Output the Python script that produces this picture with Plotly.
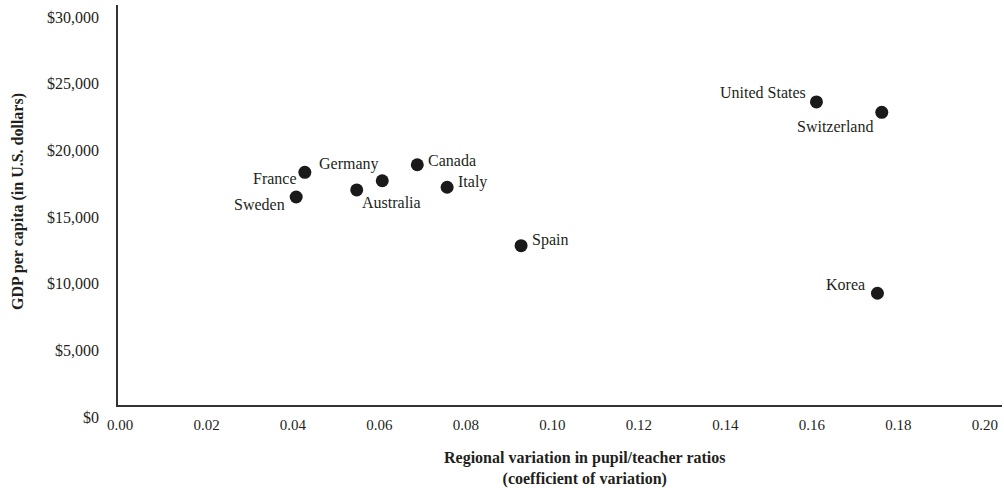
import plotly.graph_objects as go

countries = ["France", "Sweden", "Germany", "Australia", "Canada", "Italy",
             "Spain", "United States", "Switzerland", "Korea"]
variation = [0.0432, 0.0412, 0.0611, 0.0552, 0.0692, 0.0761,
             0.0932, 0.1615, 0.1766, 0.1756]
gdp = [17450, 15600, 16820, 16130, 18020, 16330,
       11950, 22730, 21950, 8380]

# label placement (styling): anchor side and pixel offsets
label_anchor = ["right", "right", "right", "left", "left", "left",
                "left", "right", "right", "right"]
label_dx = [-6, -9, -1, 3, 9, 9, 9, -8, -7, -10]
label_dy = [-6, -7, 17, -13, 4, 5, 6, 9, -14, 9]

FONT = "Liberation Serif, Times New Roman, serif"
TXT = "#231f20"

fig = go.Figure()
fig.add_trace(go.Scatter(
    x=variation, y=gdp, mode="markers",
    marker=dict(size=13, color="#1a1a1a"),
    hoverinfo="text", text=countries, showlegend=False,
))

for c, xv, yv, a, dx, dy in zip(countries, variation, gdp, label_anchor, label_dx, label_dy):
    fig.add_annotation(x=xv, y=yv, text=c, showarrow=False, xanchor=a,
                       yanchor="middle", xshift=dx, yshift=dy,
                       font=dict(family=FONT, size=16, color=TXT))

fig.add_annotation(xref="paper", yref="paper", x=-0.1131, y=0.5075,
                   text="<b>GDP per capita (in U.S. dollars)</b>", textangle=-90,
                   showarrow=False, xanchor="center", yanchor="middle",
                   font=dict(family=FONT, size=16, color=TXT))
fig.add_annotation(xref="paper", yref="paper", x=0.5277, y=-0.158,
                   text="<b>Regional variation in pupil/teacher ratios</b><br><b>(coefficient of variation)</b>",
                   showarrow=False, xanchor="center", yanchor="middle",
                   font=dict(family=FONT, size=16, color=TXT))

fig.update_layout(
    width=1004, height=488,
    margin=dict(l=118, r=2, t=5, b=83, autoexpand=False),
    paper_bgcolor="white", plot_bgcolor="white",
    font=dict(family=FONT, size=15, color=TXT),
    xaxis=dict(range=[0, 0.2044], tick0=0, dtick=0.02, tickformat=".2f",
               showgrid=False, zeroline=False, showline=True,
               linecolor="#333333", linewidth=1.5, ticks="",
               ticklabelstandoff=5, ticklabelshift=2,
               tickfont=dict(family=FONT, size=15, color=TXT)),
    yaxis=dict(range=[0, 30000], tick0=0, dtick=5000, tickformat=",d",
               tickprefix="$", showgrid=False, zeroline=False, showline=True,
               linecolor="#333333", linewidth=1.5, ticks="",
               ticklabelstandoff=14, ticklabelshift=12,
               tickfont=dict(family=FONT, size=16, color=TXT)),
)

fig.write_html("out.html", config={"displayModeBar": False},
               post_script="document.body.style.margin='0';document.body.style.overflow='hidden';")
